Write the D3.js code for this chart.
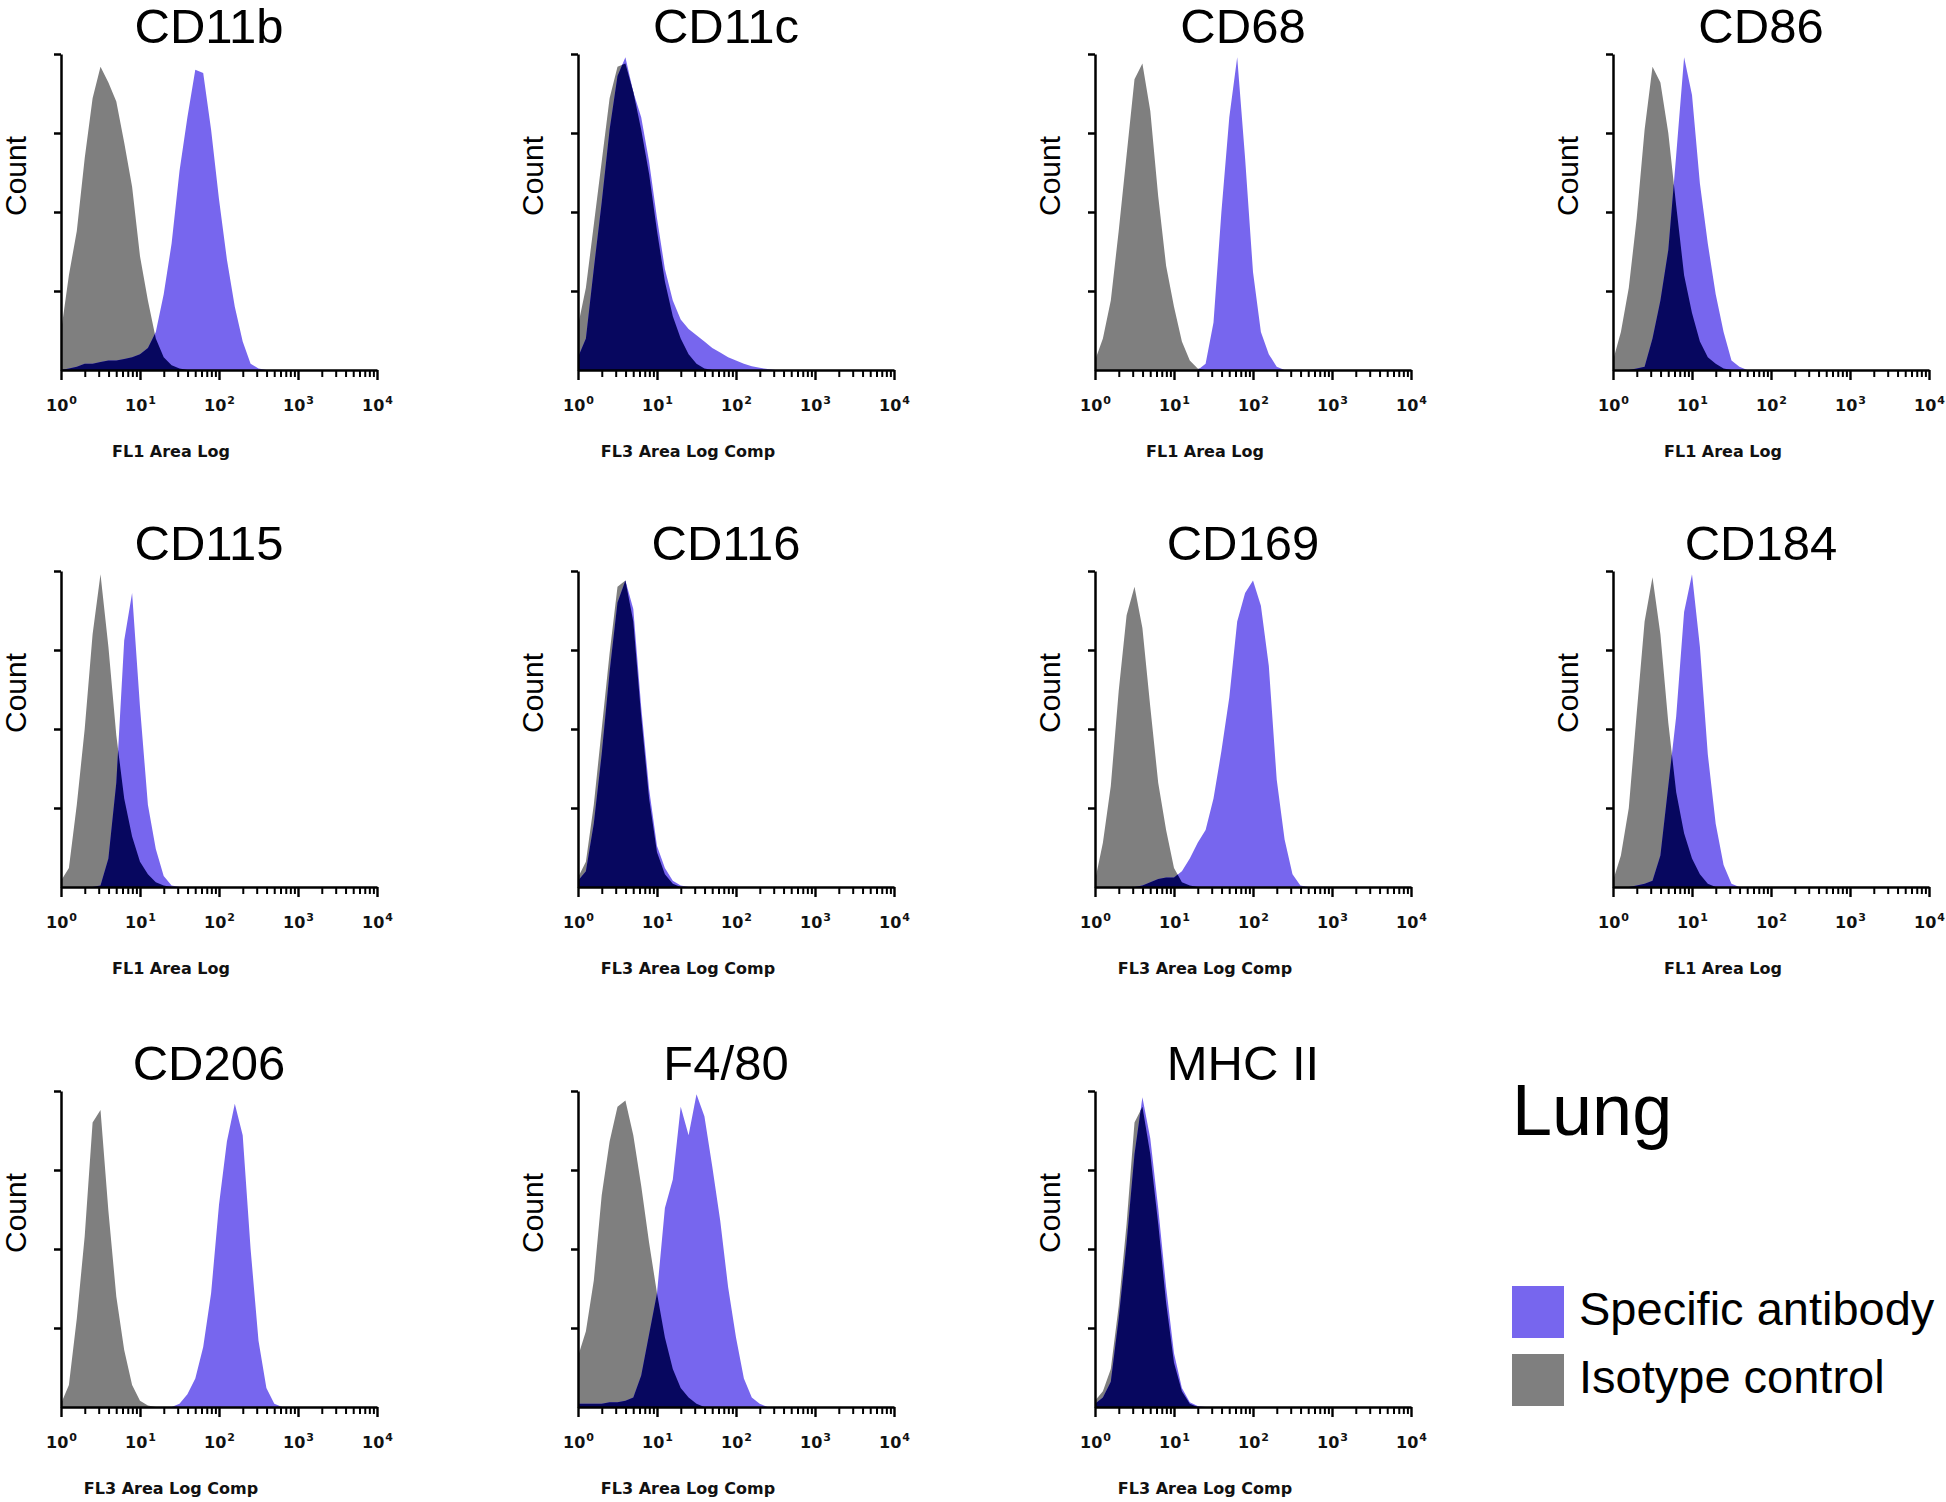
<!DOCTYPE html>
<html>
<head>
<meta charset="utf-8">
<script src="https://cdn.jsdelivr.net/npm/d3@7"></script>
<style>
  html, body { margin: 0; padding: 0; background: #ffffff; }
  svg { display: block; }
</style>
</head>
<body>
<svg id="chart" width="1946" height="1502"></svg>
<script>
// ---------------- DATA ----------------
// Bin positions: decade exponent of fluorescence intensity (10^e)
const binExponents = [0.0,0.1,0.2,0.3,0.4,0.5,0.6,0.7,0.8,0.9,1.0,1.1,1.2,1.3,1.4,1.5,1.6,1.7,1.8,1.9,2.0,2.1,2.2,2.3,2.4,2.5,2.6,2.7,2.8];

const panelNames = ["CD11b","CD11c","CD68","CD86","CD115","CD116","CD169","CD184","CD206","F4/80","MHC II"];
const axisLabels = ["FL1 Area Log","FL3 Area Log Comp","FL1 Area Log","FL1 Area Log",
                    "FL1 Area Log","FL3 Area Log Comp","FL3 Area Log Comp","FL1 Area Log",
                    "FL3 Area Log Comp","FL3 Area Log Comp","FL3 Area Log Comp"];

// Counts (% of axis maximum), isotype control (gray) and specific antibody (purple)
const isoCD11b  = [12,30,44,67,86,96,91,85,72,58,36,22,10,4,1.5,0.5,0,0,0,0,0,0,0,0,0,0,0,0,0];
const specCD11b = [0,0.5,1,2,2,2.5,3,3,3.5,4,5,7,12,24,40,63,80,95,94,76,54,35,20,9,2,0.5,0,0,0];

const isoCD11c  = [14,26,46,66,86,96,97,88,76,62,44,28,17,10,5,2,0.5,0,0,0,0,0,0,0,0,0,0,0,0];
const specCD11c = [4,10,32,53,76,93,99,88,80,66,48,32,22,16,13,11,9,7,5.5,4,3,2,1.2,0.7,0.3,0,0,0,0];

const isoCD68   = [3,10,22,44,68,92,97,82,55,33,20,9,3,0.5,0,0,0,0,0,0,0,0,0,0,0,0,0,0,0];
const specCD68  = [0,0,0,0,0,0,0,0,0,0,0,0,0,0,2,15,50,80,99,67,31,12,5,1,0,0,0,0,0];

const isoCD86   = [3,12,26,48,76,96,91,75,52,30,18,9,4,2,0.5,0,0,0,0,0,0,0,0,0,0,0,0,0,0];
const specCD86  = [0,0,0,0.5,1,10,22,38,68,99,87,59,40,24,12,3,1,0,0,0,0,0,0,0,0,0,0,0,0];

const isoCD115  = [2,6,26,50,80,99,76,48,28,16,8,4,1.5,0.5,0,0,0,0,0,0,0,0,0,0,0,0,0,0,0];
const specCD115 = [0,0,0,0,0,0.5,9,33,78,93,57,26,12,3.5,0.5,0,0,0,0,0,0,0,0,0,0,0,0,0,0];

const isoCD116  = [3,8,26,50,74,95,97,84,54,28,11,4,1,0,0,0,0,0,0,0,0,0,0,0,0,0,0,0,0];
const specCD116 = [2,5,20,42,68,90,97,88,57,31,13,6,2,0.5,0,0,0,0,0,0,0,0,0,0,0,0,0,0,0];

const isoCD169  = [2,14,32,62,86,95,82,57,33,18,6,1.5,0.5,0,0,0,0,0,0,0,0,0,0,0,0,0,0,0,0];
const specCD169 = [0,0,0,0,0,0,0.5,1.5,2.5,3,3,5,9,14,18,28,43,60,84,93,97,89,70,34,15,4,0.5,0,0];

const isoCD184  = [2,10,25,55,84,98,80,52,30,17,9,4,1,0,0,0,0,0,0,0,0,0,0,0,0,0,0,0,0];
const specCD184 = [0,0,0,0.5,1,2,10,32,54,87,99,76,42,20,7,1,0,0,0,0,0,0,0,0,0,0,0,0,0];

const isoCD206  = [1,7,28,54,90,94,62,35,18,7,2,0.5,0,0,0,0,0,0,0,0,0,0,0,0,0,0,0,0,0];
const specCD206 = [0,0,0,0,0,0,0,0,0,0,0,0,0,0,0,1,4,9,19,36,64,84,96,86,50,21,6,1,0];

const isoF480   = [16,24,40,67,84,95,97,86,70,52,36,22,12,6,3,1,0,0,0,0,0,0,0,0,0,0,0,0,0];
const specF480  = [1,1,1,1,1.5,1.5,2,3,10,23,36,63,72,95,86,99,92,76,59,38,22,9,3,1,0,0,0,0,0];

const isoMHCII  = [2,5,12,32,58,90,95,80,58,33,14,5,1,0,0,0,0,0,0,0,0,0,0,0,0,0,0,0,0];
const specMHCII = [1,3,8,28,52,80,98,85,63,38,17,6,1.5,0.3,0,0,0,0,0,0,0,0,0,0,0,0,0,0,0];

const isotypeSeries  = [isoCD11b, isoCD11c, isoCD68, isoCD86, isoCD115, isoCD116, isoCD169, isoCD184, isoCD206, isoF480, isoMHCII];
const specificSeries = [specCD11b, specCD11c, specCD68, specCD86, specCD115, specCD116, specCD169, specCD184, specCD206, specF480, specMHCII];

const xMajorTicks = [1, 10, 100, 1000, 10000];
const xMajorExponents = ["0", "1", "2", "3", "4"];
const yTickValues = [25, 50, 75, 100];

const chartTitle = "Lung";
const legendLabels = ["Specific antibody", "Isotype control"];

// ---------------- STYLE / LAYOUT ----------------
const COL_GRAY = "#7f7f7f";
const COL_PURPLE = "#7766ee";
const COL_NAVY = "#07075f";
const colX = [61, 578, 1095, 1613];
const rowBase = [370, 887, 1407];
const AX_W = 316, AX_H = 316;

const svg = d3.select("#chart");
svg.append("rect").attr("width", 1946).attr("height", 1502).attr("fill", "#fff");

function overlapPoints(ex, a, b) {
  const pts = [];
  for (let i = 0; i < ex.length; i++) {
    pts.push([ex[i], Math.min(a[i], b[i])]);
    if (i < ex.length - 1) {
      const d0 = a[i] - b[i], d1 = a[i + 1] - b[i + 1];
      if (d0 * d1 < 0) {
        const t = d0 / (d0 - d1);
        pts.push([ex[i] + t * (ex[i + 1] - ex[i]), a[i] + t * (a[i + 1] - a[i])]);
      }
    }
  }
  return pts;
}

panelNames.forEach((name, idx) => {
  const col = idx % 4, row = Math.floor(idx / 4);
  const x0 = colX[col], base = rowBase[row];
  const g = svg.append("g").attr("transform", `translate(${x0},${base - AX_H})`);

  const x = d3.scaleLog().domain([1, 10000]).range([0, AX_W]);
  const y = d3.scaleLinear().domain([0, 100]).range([AX_H, 0]);

  const area = d3.area()
    .x(d => x(Math.pow(10, d[0])))
    .y0(y(0))
    .y1(d => y(d[1]));

  const iso = isotypeSeries[idx], spec = specificSeries[idx];
  const isoPts = binExponents.map((e, i) => [e, iso[i]]);
  const specPts = binExponents.map((e, i) => [e, spec[i]]);
  const ovPts = overlapPoints(binExponents, iso, spec);

  g.append("path").datum(isoPts).attr("d", area).attr("fill", COL_GRAY);
  g.append("path").datum(specPts).attr("d", area).attr("fill", COL_PURPLE);
  g.append("path").datum(ovPts).attr("d", area).attr("fill", COL_NAVY);

  // y axis
  const yAxis = g.append("g").call(
    d3.axisLeft(y).tickValues(yTickValues).tickSize(7).tickSizeOuter(0).tickFormat("")
  );
  yAxis.selectAll("path, line").attr("stroke", "#000").attr("stroke-width", 2.5);

  // x axis: minor ticks
  const minorVals = [];
  for (let d = 1; d < 10000; d *= 10) for (let k = 2; k <= 9; k++) minorVals.push(d * k);
  const xMinor = g.append("g").attr("transform", `translate(0,${AX_H})`).call(
    d3.axisBottom(x).tickValues(minorVals).tickSize(7).tickSizeOuter(0).tickFormat("")
  );
  xMinor.selectAll("path, line").attr("stroke", "#000").attr("stroke-width", 2.5);
  xMinor.selectAll(".tick line").attr("stroke-width", 2);

  // x axis: major ticks with labels
  const xMajor = g.append("g").attr("transform", `translate(0,${AX_H})`).call(
    d3.axisBottom(x).tickValues(xMajorTicks).tickSize(10).tickSizeOuter(0).tickFormat(() => "")
  );
  xMajor.select(".domain").remove();
  xMajor.selectAll(".tick line").attr("stroke", "#000").attr("stroke-width", 2.4);
  xMajor.selectAll(".tick text").each(function(d, i) {
    const t = d3.select(this);
    t.attr("y", 30).attr("dy", "0.71em")
      .attr("font-family", "'DejaVu Sans', Verdana, sans-serif")
      .attr("font-weight", "bold").attr("font-size", 16).attr("fill", "#111");
    t.text(null);
    t.append("tspan").text("10");
    t.append("tspan").attr("font-size", 11).attr("dy", -7).attr("dx", 1).text(xMajorExponents[i]);
  });

  // axis label
  svg.append("text")
    .attr("x", x0 + 110).attr("y", base + 87)
    .attr("text-anchor", "middle")
    .attr("font-family", "'DejaVu Sans', Verdana, sans-serif")
    .attr("font-weight", "bold").attr("font-size", 16).attr("fill", "#111")
    .text(axisLabels[idx]);

  // Count label
  svg.append("text")
    .attr("transform", `translate(${x0 - 46},${base - AX_H / 2 - 36}) rotate(-90)`)
    .attr("text-anchor", "middle").attr("dy", "0.36em")
    .attr("font-family", "'Liberation Sans', Arial, sans-serif")
    .attr("font-size", 30).attr("fill", "#000")
    .text("Count");

  // title
  svg.append("text")
    .attr("x", x0 + 148).attr("y", base - AX_H - 11)
    .attr("text-anchor", "middle")
    .attr("font-family", "'Liberation Sans', Arial, sans-serif")
    .attr("font-size", 49).attr("fill", "#000")
    .text(name);
});

// Title "Lung" and legend
svg.append("text")
  .attr("x", 1512).attr("y", 1135)
  .attr("font-family", "'Liberation Sans', Arial, sans-serif")
  .attr("font-size", 72).attr("fill", "#000")
  .text(chartTitle);

const legendColors = [COL_PURPLE, COL_GRAY];
const legendTop = [1286, 1354];
legendLabels.forEach((lab, i) => {
  svg.append("rect")
    .attr("x", 1512).attr("y", legendTop[i])
    .attr("width", 52).attr("height", 52)
    .attr("fill", legendColors[i]);
  svg.append("text")
    .attr("x", 1579).attr("y", legendTop[i] + 39)
    .attr("font-family", "'Liberation Sans', Arial, sans-serif")
    .attr("font-size", 47).attr("fill", "#000")
    .text(lab);
});
</script>
</body>
</html>
